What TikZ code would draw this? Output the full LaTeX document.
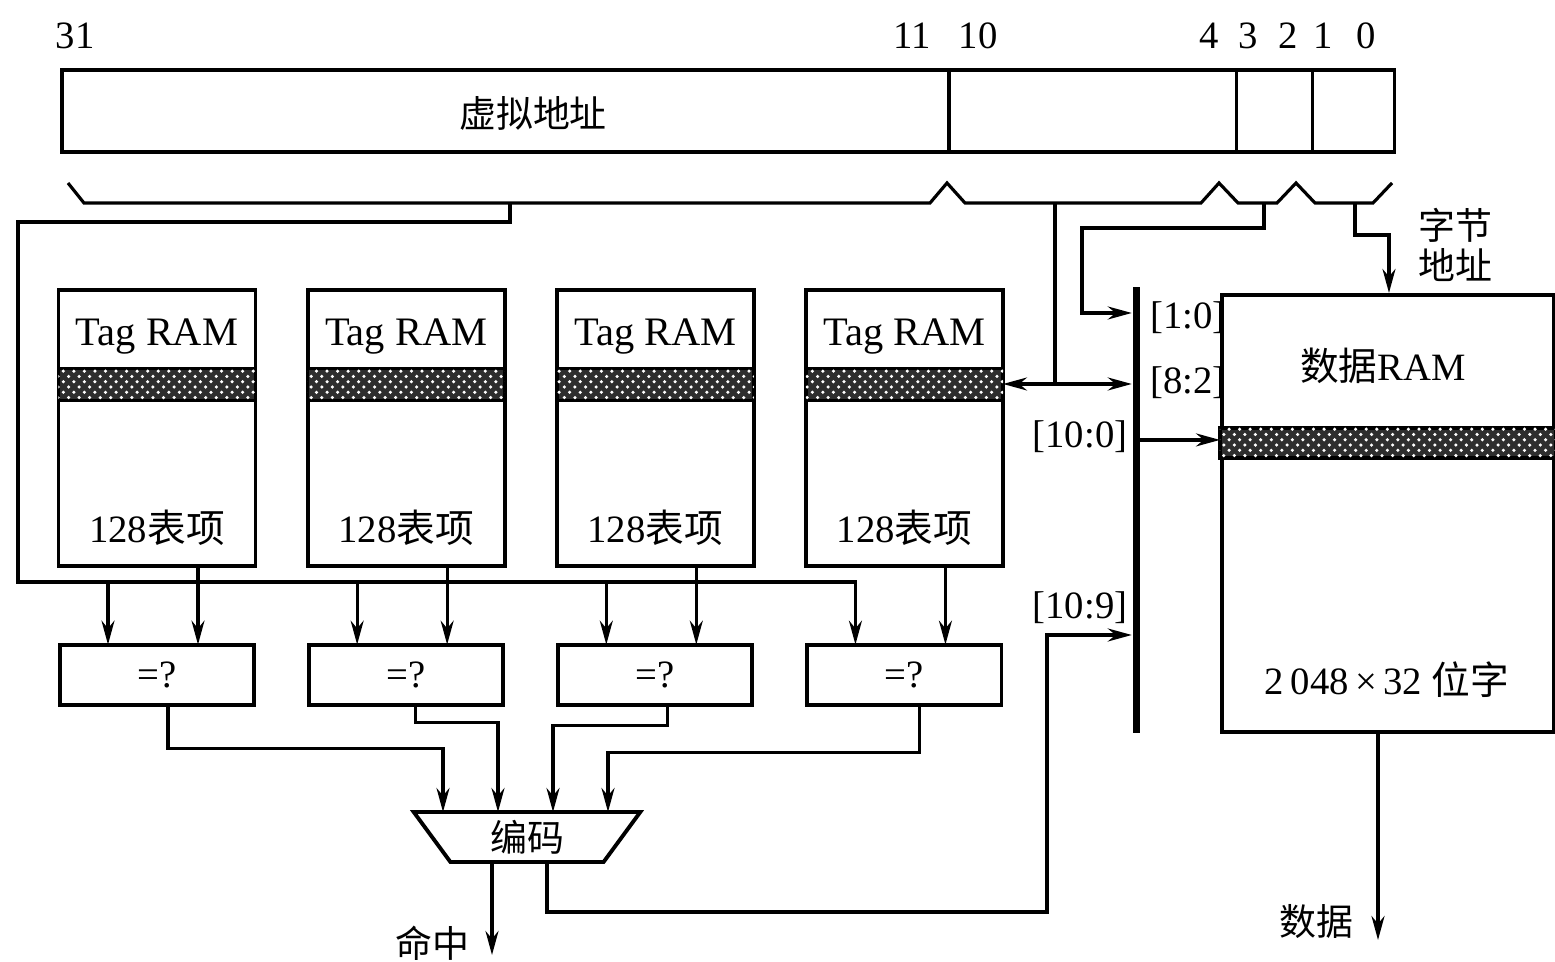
\documentclass[tikz,border=0pt]{standalone}
\usepackage{fontspec}
\setmainfont{Liberation Serif}
\newfontfamily\cjk{Noto Sans CJK SC}
\usetikzlibrary{positioning, arrows.meta, calc, shapes.geometric, patterns}

\begin{document}
\begin{tikzpicture}[x=0.01cm, y=-0.01cm,
  wire/.style={line width=0.9pt},
  arr/.style={wire, -{Stealth[length=2.4mm, width=1.3mm]}},
  darr/.style={wire, {Stealth[length=2.4mm, width=1.3mm]}-{Stealth[length=2.4mm, width=1.3mm]}},
  field/.style={draw, line width=1.1pt, minimum height=0.82cm, inner sep=0pt, outer sep=0pt},
  ram/.style={draw, line width=1.1pt, minimum width=1.97cm, minimum height=2.75cm,
              inner sep=0pt, outer sep=0pt},
  cmpbox/.style={draw, line width=1.1pt, minimum width=1.94cm, minimum height=0.6cm,
                 inner sep=0pt, outer sep=0pt, font=\fontsize{11}{13}\selectfont},
  hatch/.style={draw, line width=1pt, fill=black!82,
                postaction={pattern=crosshatch dots, pattern color=white}},
  lbl/.style={inner sep=1pt, font=\fontsize{11}{13}\selectfont},
  zh/.style={inner sep=1pt, font=\cjk\fontsize{10.5}{11.5}\selectfont},
]
\useasboundingbox (0,0) rectangle (1555,962);

% Virtual address fields
\node[field, minimum width=8.87cm] (va) at (505.5,111) {};
\node[field, minimum width=2.87cm, right=0pt of va] (idx) {};
\node[field, minimum width=0.76cm, right=0pt of idx] (wfld) {};
\node[field, minimum width=0.82cm, right=0pt of wfld] (bfld) {};
\node[zh] (vat) at (533,113) {虚拟地址};
\foreach \b/\x in {31/75, 11/912, 10/978, 4/1209, 3/1248, 2/1288, 1/1323, 0/1366}
  \node[lbl] (bit\b) at (\x,36) {\b};

% Field braces
\draw[wire] (68,183) -- (84,203) -- (930,203) -- (947,183) -- (965,203) -- (1201,203)
  -- (1219,183) -- (1238,203) -- (1277,203) -- (1296,183) -- (1315,203) -- (1373,203) -- (1392,183);
\coordinate (tagtap) at (510,203);
\coordinate (idxtap) at (1055,203);
\coordinate (wtap) at (1264,203);
\coordinate (btap) at (1355,203);

% Tag RAMs and comparators
\node[ram] (tag1) at (157,428) {};
\node[ram, right=0.52cm of tag1] (tag2) {};
\node[ram, right=0.52cm of tag2] (tag3) {};
\node[ram, right=0.52cm of tag3] (tag4) {};
\foreach \i in {1,...,4} {
  \draw[hatch] ($(tag\i.north west)+(0,78)$) rectangle ($(tag\i.north east)+(0,110)$);
  \node[lbl, font=\fontsize{11.5}{13}\selectfont, below=0.24cm of tag\i.north] (tagn\i) {Tag RAM};
  \node[lbl, above=0.16cm of tag\i.south] (tagc\i) {128{\cjk 表项}};
  \node[cmpbox, below=0.79cm of tag\i] (cmp\i) {=?};
  \draw[arr] ($(tag\i.south)+(41,0)$) -- ($(cmp\i.north)+(41,0)$);
}

% Tag bits to comparators
\coordinate (tagl) at (18,582);
\draw[arr] (tagtap) -- ++(0,19) -| (tagl) -| ($(cmp4.north)+(-49,0)$);
\foreach \i in {1,2,3} {
  \coordinate (cin\i) at ($(cmp\i.north)+(-49,0)$);
  \draw[arr] (cin\i |- tagl) -- (cin\i);
}

% Encoder
\node[draw, line width=1.1pt, trapezium, trapezium angle=62.5, shape border rotate=180,
      trapezium stretches=true, minimum width=2.27cm, minimum height=0.5cm, inner sep=0pt,
      font=\cjk\fontsize{10.5}{12}\selectfont] (enc) at (527,837) {编码};
\draw[arr] ($(cmp1.south)+(11,0)$) -- ++(0,44) -| ($(enc.center)+(-84,-25)$);
\draw[arr] ($(cmp2.south)+(9,0)$) -- ++(0,18) -| ($(enc.center)+(-29,-25)$);
\draw[arr] ($(cmp3.south)+(12,0)$) -- ++(0,21) -| ($(enc.center)+(26,-25)$);
\draw[arr] ($(cmp4.south)+(15,0)$) -- ++(0,48) -| ($(enc.center)+(81,-25)$);

\coordinate (hit) at (492,955);
\draw[arr] ($(enc.center)+(-35,25)$) -- (hit);
\node[zh, anchor=east] (hitt) at (474,943) {命中};

% Index bus and data RAM
\node[fill=black, minimum width=0.07cm, minimum height=4.46cm, inner sep=0pt] (bus) at (1136,510) {};
\node[draw, line width=1.1pt, minimum width=3.32cm, minimum height=4.37cm, inner sep=0pt] (dram) at (1388,513.5) {};
\draw[hatch] ($(dram.north west)+(0,135)$) rectangle ($(dram.north east)+(0,165)$);
\node[lbl] (dramt) at (1383,366) {{\cjk 数据}RAM};
\node[lbl] (dramc) at (1387,680) {2\,048\,×\,32 {\cjk 位字}};

\coordinate (sel) at (1055,384);
\draw[wire] (idxtap) -- (sel);
\draw[darr] (tag4.east |- sel) -- (bus.west |- sel);

\coordinate (wk) at (1082,313);
\draw[arr] (wtap) -- ++(0,25) -| (wk) -- (bus.west |- wk);

\draw[arr] (btap) -- ++(0,32) -| ($(dram.north west)+(169,0)$);
\node[zh, align=center] (bytet) at (1455,245) {字节\\地址};

\coordinate (drow) at ($(dram.north west)+(0,147)$);
\draw[arr] (bus.east |- drow) -- (drow);

\coordinate (wy) at (1047,635);
\draw[arr] ($(enc.center)+(20,25)$) -- ++(0,50) -| (wy) -- (bus.west |- wy);

\coordinate (dout) at (1378,940);
\draw[arr] (dram.south -| dout) -- (dout);
\node[zh, anchor=east] (doutt) at (1358,922) {数据};

% Bus labels
\node[lbl] (l10) at (1188,318) {[1:0]};
\node[lbl] (l82) at (1188,383) {[8:2]};
\node[lbl] (l100) at (1080,437) {[10:0]};
\node[lbl] (l109) at (1080,608) {[10:9]};

\end{tikzpicture}
\end{document}
